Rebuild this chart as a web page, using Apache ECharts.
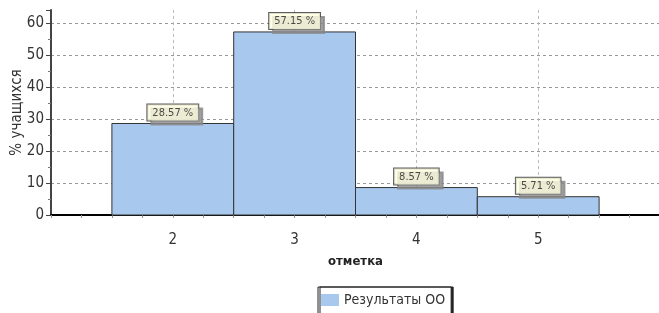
<!DOCTYPE html>
<html>
<head>
<meta charset="utf-8">
<script src="https://cdn.jsdelivr.net/npm/echarts@6/dist/echarts.min.js"></script>
<style>
  html, body { margin: 0; padding: 0; background: #fff; }
  #chart { width: 659px; height: 313px; }
</style>
</head>
<body>
<div id="chart"></div>
<script>
'use strict';

var marks = [2, 3, 4, 5];
var percents = [28.57, 57.15, 8.57, 5.71];
var seriesName = 'Результаты ОО';
var font = '"DejaVu Sans Condensed", "Liberation Sans Narrow", "Liberation Sans", sans-serif';

var barData = marks.map(function (m, i) { return [m, percents[i]]; });

var myChart = echarts.init(document.getElementById('chart'));

var options = {
    animation: false,
    grid: { left: 51, right: -1, top: 10, bottom: 98, outerBoundsMode: 'none', containLabel: false },
    legend: {
        data: [{ name: seriesName, icon: 'rect' }],
        left: 318,
        top: 287,
        itemWidth: 18,
        itemHeight: 12,
        itemGap: 4,
        padding: [6, 6, 9, 3],
        borderColor: '#222',
        borderWidth: 1,
        backgroundColor: '#fff',
        shadowColor: '#222',
        shadowOffsetX: 2,
        shadowBlur: 0,
        textStyle: { fontFamily: font, fontSize: 14, color: '#333' }
    },
    xAxis: {
        type: 'value',
        min: 1,
        max: 6,
        interval: 1,
        name: 'отметка',
        nameLocation: 'middle',
        nameGap: 40,
        nameMoveOverlap: false,
        nameTextStyle: { fontFamily: font, fontSize: 13, fontWeight: 'bold', color: '#222' },
        axisLine: { lineStyle: { color: '#000', width: 2 } },
        axisTick: { show: true, length: 3, lineStyle: { color: '#999' } },
        minorTick: { show: true, splitNumber: 4, length: 3, lineStyle: { color: '#999' } },
        axisLabel: {
            fontFamily: font, fontSize: 15, color: '#333', margin: 18,
            formatter: function (v) { return marks.indexOf(v) >= 0 ? String(v) : ''; }
        },
        splitLine: {
            show: true, showMinLine: false, showMaxLine: false,
            lineStyle: { color: '#bbb', type: [3, 3] }
        }
    },
    yAxis: {
        type: 'value',
        min: 0,
        max: 64,
        interval: 10,
        name: '% учащихся',
        nameLocation: 'middle',
        nameGap: 26,
        nameMoveOverlap: false,
        nameRotate: 90,
        nameTextStyle: { fontFamily: font, fontSize: 15, color: '#333' },
        axisLine: { show: true, lineStyle: { color: '#444', width: 2 } },
        axisTick: { show: true, length: 5, lineStyle: { color: '#444' } },
        minorTick: { show: true, splitNumber: 2, length: 3, lineStyle: { color: '#777' } },
        axisLabel: {
            fontFamily: font, fontSize: 15, color: '#333', margin: 7,
            showMaxLabel: false
        },
        splitLine: {
            show: true, showMinLine: false, showMaxLine: false,
            lineStyle: { color: '#999', type: [3, 3] }
        }
    },
    series: [
        {
            name: seriesName,
            type: 'custom',
            itemStyle: { color: '#a8c8ee', borderColor: '#333' },
            renderItem: function (params, api) {
                var x = api.value(0);
                var p0 = api.coord([x - 0.5, api.value(1)]);
                var p1 = api.coord([x + 0.5, 0]);
                return {
                    type: 'rect',
                    shape: { x: p0[0], y: p0[1], width: p1[0] - p0[0], height: p1[1] - p0[1] },
                    style: { fill: '#a8c8ee', stroke: '#333', lineWidth: 1 }
                };
            },
            encode: { x: 0, y: 1 },
            data: barData,
            z: 2
        },
        {
            name: 'labels',
            type: 'scatter',
            symbolSize: 0,
            data: barData,
            z: 5,
            label: {
                show: true,
                position: 'top',
                distance: 3,
                formatter: function (p) { return p.value[1].toFixed(2) + ' %'; },
                fontFamily: font,
                fontSize: 11,
                color: '#222',
                backgroundColor: '#ffffe1',
                borderColor: '#333',
                borderWidth: 1,
                padding: [3, 5, 2, 5],
                shadowColor: '#888',
                shadowOffsetX: 4,
                shadowOffsetY: 4,
                shadowBlur: 0
            }
        }
    ]
};

myChart.setOption(options);
</script>
</body>
</html>
